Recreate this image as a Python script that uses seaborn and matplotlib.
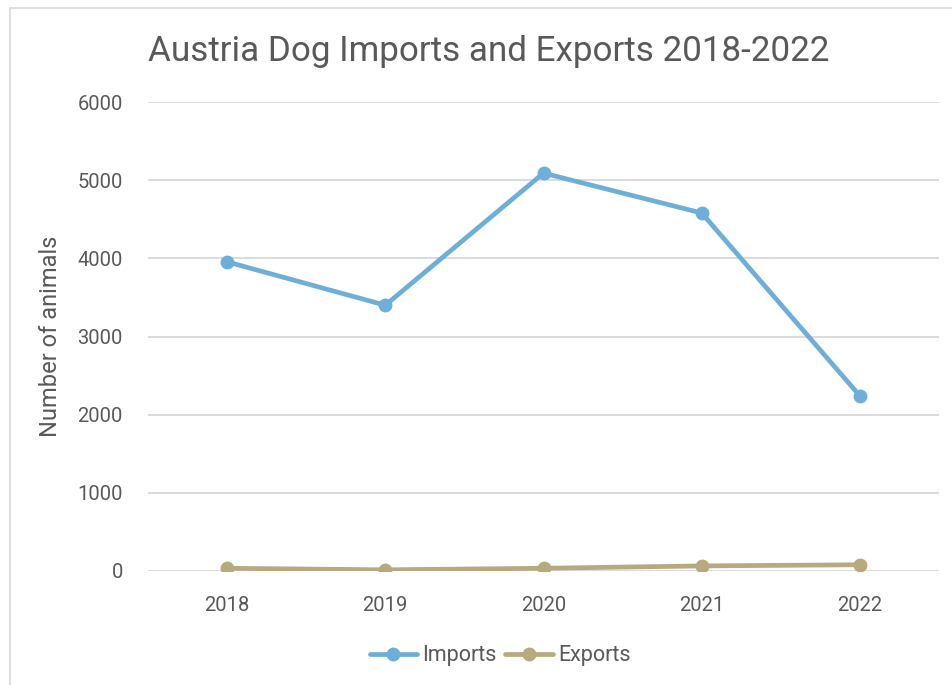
import matplotlib
matplotlib.use("Agg")
import matplotlib.pyplot as plt
import seaborn as sns
import pandas as pd
from matplotlib.patches import Rectangle
from matplotlib.lines import Line2D

years = ["2018", "2019", "2020", "2021", "2022"]
imports = [3955, 3400, 5090, 4580, 2240]
exports = [35, 15, 35, 65, 80]
series_names = ["Imports", "Exports"]
y_ticks = [0, 1000, 2000, 3000, 4000, 5000, 6000]

df = pd.DataFrame({
    "Year": years * 2,
    "Value": imports + exports,
    "Series": [series_names[0]] * len(years) + [series_names[1]] * len(years),
})

sns.set_theme(style="white")
plt.rcParams["font.family"] = ["Roboto", "DejaVu Sans"]
text_color = "#595959"
colors = {"Imports": "#6eafd9", "Exports": "#b8a97f"}

fig = plt.figure(figsize=(9.52, 6.85), dpi=100)
ax = fig.add_axes([148 / 952, 1 - 571 / 685, (939 - 148) / 952, (571 - 102) / 685])

fig.patches.append(Rectangle((10 / 952, -0.1), 1.2, 1 - 8 / 685 + 0.1,
                             transform=fig.transFigure, fill=False,
                             edgecolor="#d9d9d9", linewidth=1.2))

sns.lineplot(data=df, x="Year", y="Value", hue="Series", palette=colors,
             marker="o", markersize=10, linewidth=3.4, markeredgewidth=0,
             ax=ax, legend=False, sort=False)

ax.set_xlim(-0.5, 4.5)
ax.set_ylim(0, 6000)
ax.set_yticks(y_ticks)
ax.set_yticklabels([str(t) for t in y_ticks])
ax.yaxis.grid(True, color="#d9d9d9", linewidth=1.3)
ax.set_axisbelow(True)
for s in ax.spines.values():
    s.set_visible(False)
ax.tick_params(axis="both", length=0, labelsize=14.5, colors=text_color)
ax.tick_params(axis="y", pad=18)
ax.tick_params(axis="x", pad=18)
ax.set_xlabel("")
ax.set_ylabel("Number of animals", fontsize=17, color=text_color, labelpad=11)

fig.text(148 / 952, 1 - 51 / 685, "Austria Dog Imports and Exports 2018-2022",
         fontsize=25.2, color=text_color, ha="left", va="center")

handles = [Line2D([0], [0], color=colors[n], linewidth=3.4, marker="o",
                  markersize=10, markeredgewidth=0) for n in series_names]
fig.legend(handles, series_names, loc="center", bbox_to_anchor=(500 / 952, 1 - 656 / 685),
           ncol=2, frameon=False, fontsize=15.5, labelcolor=text_color,
           handlelength=2.2, handletextpad=0.25, columnspacing=0.4)

fig.savefig("out.png", dpi=100)
